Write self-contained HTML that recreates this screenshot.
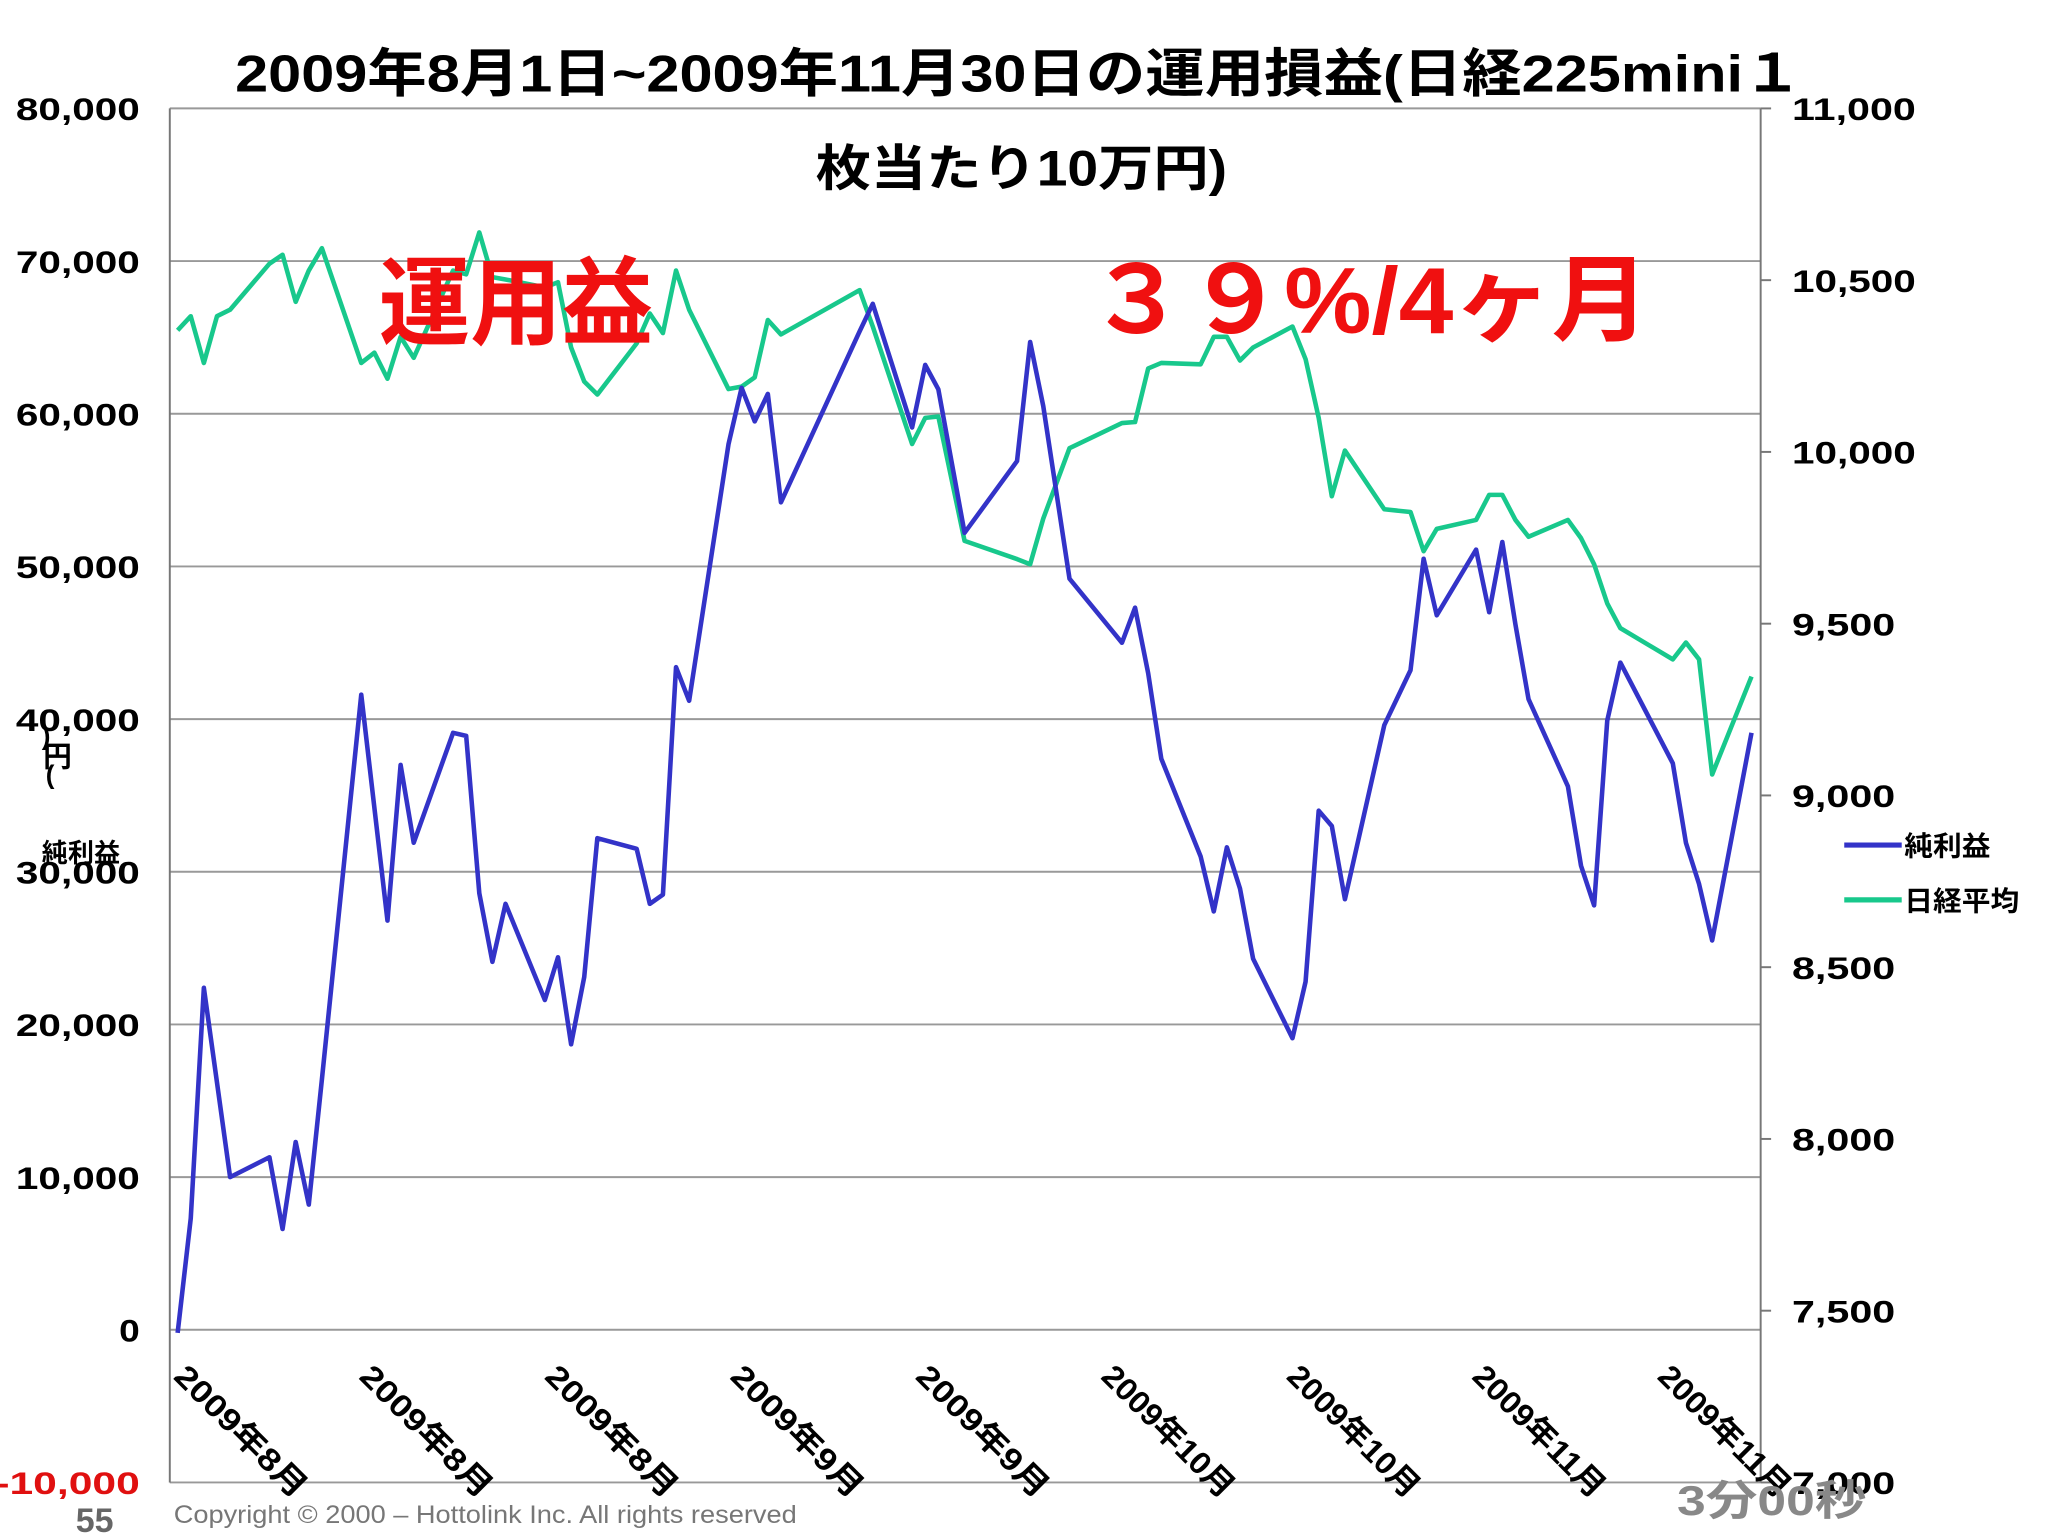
<!DOCTYPE html>
<html><head><meta charset="utf-8"><style>
html,body{margin:0;padding:0;background:#fff;}
svg{display:block;}
text{font-family:"Liberation Sans","Noto Sans CJK JP",sans-serif;}
</style></head><body>
<svg id="chart" width="2048" height="1536" viewBox="0 0 1568 1176" xmlns="http://www.w3.org/2000/svg">
<rect width="1568" height="1176" fill="#fff"/>
<text x="780" y="70" text-anchor="middle" font-size="40" font-weight="bold" textLength="1200" lengthAdjust="spacingAndGlyphs">2009年8月1日~2009年11月30日の運用損益(日経225mini１</text>
<text x="782" y="142" text-anchor="middle" font-size="38" font-weight="bold" textLength="315" lengthAdjust="spacingAndGlyphs">枚当たり10万円)</text>
<g id="grid"></g>
<g id="axes"></g>
<g id="series"></g>
<text x="290" y="258" font-size="74" font-weight="bold" fill="#f01010" textLength="210" lengthAdjust="spacingAndGlyphs">運用益</text>
<text x="833" y="255" font-size="72" font-weight="bold" fill="#f01010" textLength="430" lengthAdjust="spacingAndGlyphs">３９%/4ヶ月</text>
<text x="32" y="570" font-size="20" font-weight="bold">)</text>
<text x="33" y="587" font-size="22" font-weight="bold">円</text>
<text x="35" y="600" font-size="20" font-weight="bold">(</text>
<text x="32" y="660" font-size="20" font-weight="bold">純利益</text>
<g>
<line x1="1412" y1="647" x2="1456" y2="647" stroke="#3333c8" stroke-width="4"/>
<text x="1458" y="655" font-size="21" font-weight="bold" textLength="66" lengthAdjust="spacingAndGlyphs">純利益</text>
<line x1="1412" y1="689" x2="1456" y2="689" stroke="#18c88c" stroke-width="4"/>
<text x="1458" y="697" font-size="21" font-weight="bold" textLength="88" lengthAdjust="spacingAndGlyphs">日経平均</text>
</g>
<text x="58" y="1173" font-size="26" font-weight="bold" fill="#666">55</text>
<text x="133" y="1166" font-size="19" fill="#777" textLength="477" lengthAdjust="spacingAndGlyphs">Copyright © 2000 – Hottolink Inc. All rights reserved</text>
<text x="1284" y="1160" font-size="32" font-weight="bold" fill="#888" textLength="145" lengthAdjust="spacingAndGlyphs">3分00秒</text>
</svg>
<script>
const leftTicks=[80000,70000,60000,50000,40000,30000,20000,10000,0,-10000];
const rightTicks=[11000,10500,10000,9500,9000,8500,8000,7500,7000];
const xLabels=["2009年8月","2009年8月","2009年8月","2009年9月","2009年9月","2009年10月","2009年10月","2009年11月","2009年11月"];
const profitDays=[0,1,2,4,7,8,9,10,11,14,16,17,18,21,22,23,24,25,28,29,30,31,32,35,36,37,38,39,42,43,44,45,46,52,53,56,57,58,60,64,65,66,68,72,73,74,75,78,79,80,81,82,85,86,87,88,89,92,94,95,96,99,100,101,102,103,106,107,108,109,110,114,115,116,117,120];
const profitVals=[-200,7300,22400,10000,11300,6600,12300,8200,16400,41600,26800,37000,31900,39100,38900,28600,24100,27900,21600,24400,18700,23100,32200,31500,27900,28500,43400,41200,58000,61700,59500,61300,54200,65400,67200,59100,63200,61600,52200,56900,64700,60500,49200,45000,47300,43000,37400,31000,27400,31600,28900,24300,19100,22800,34000,33000,28200,39600,43200,50500,46800,51100,47000,51600,46200,41300,35600,30400,27800,39900,43700,37100,31900,29200,25500,39100];
const nikkeiDays=[0,1,2,3,4,7,8,9,10,11,14,15,16,17,18,21,22,23,24,25,28,29,30,31,32,35,36,37,38,39,42,43,44,45,46,52,53,56,57,58,60,64,65,66,68,72,73,74,75,78,79,80,81,82,85,86,87,88,89,92,94,95,96,99,100,101,102,103,106,107,108,109,110,114,115,116,117,120];
const nikkeiVals=[10354,10395,10259,10395,10414,10548,10574,10437,10528,10593,10259,10289,10213,10335,10274,10528,10517,10639,10509,10502,10479,10494,10304,10205,10167,10316,10403,10346,10528,10414,10183,10190,10217,10384,10342,10471,10365,10023,10099,10103,9741,9688,9673,9806,10011,10084,10087,10243,10259,10255,10335,10335,10266,10304,10365,10270,10099,9871,10004,9833,9825,9711,9776,9802,9875,9875,9802,9753,9802,9749,9673,9559,9487,9396,9445,9396,9061,9346];

const NS="http://www.w3.org/2000/svg";
const L=130,R=1348,T=83,B=1135;
const xDay=d=>136+d*(1341-136)/120;
const yL=v=>T+(80000-v)/90000*(B-T);
const yR=v=>T+(11000-v)/4000*(B-T);
function mk(tag,attrs,parent,txt){const e=document.createElementNS(NS,tag);for(const k in attrs)e.setAttribute(k,attrs[k]);if(txt!==undefined)e.textContent=txt;parent.appendChild(e);return e;}
const grid=document.getElementById('grid'),axes=document.getElementById('axes'),series=document.getElementById('series');
leftTicks.forEach(v=>{
  const y=yL(v);
  const g=mk('line',{x1:L,x2:R,y1:y,y2:y,stroke:'#999','stroke-width':1.5},grid);
  
  
  const s=v.toLocaleString('en-US');
  const t=mk('text',{x:107,y:y+9,'text-anchor':'end','font-size':24,'font-weight':'bold',fill:v<0?'#e01010':'#000',textLength:s.length*15.8,lengthAdjust:'spacingAndGlyphs'},axes,s);
  
  
});
rightTicks.forEach(v=>{
  const y=yR(v);
  const tk=mk('line',{x1:R,x2:R+8,y1:y,y2:y,stroke:'#777','stroke-width':1.5},axes);
  
  
  const s=v.toLocaleString('en-US');
  const t=mk('text',{x:1372,y:y+9,'font-size':24,'font-weight':'bold',textLength:s.length*15.8,lengthAdjust:'spacingAndGlyphs'},axes,s);
  
  
});
const la=mk('line',{x1:L,x2:L,y1:T,y2:B,stroke:'#777','stroke-width':1.5},axes);


const ra=mk('line',{x1:R,x2:R,y1:T,y2:B,stroke:'#777','stroke-width':1.5},axes);


xLabels.forEach((s,i)=>{
  const x=132+i*142,y=1055;
  const t=mk('text',{x:x,y:y,'font-size':24,'font-weight':'bold',transform:`rotate(45 ${x} ${y})`,textLength:s.length>8?148:132,lengthAdjust:'spacingAndGlyphs'},axes,s);
  
  
});
const gp=mk('polyline',{points:nikkeiDays.map((d,i)=>xDay(d)+','+yR(nikkeiVals[i])).join(' '),fill:'none',stroke:'#18c88c','stroke-width':3.5,'stroke-linejoin':'round'},series);


const bp=mk('polyline',{points:profitDays.map((d,i)=>xDay(d)+','+yL(profitVals[i])).join(' '),fill:'none',stroke:'#3333c8','stroke-width':3.5,'stroke-linejoin':'round'},series);


</script>
</body></html>
